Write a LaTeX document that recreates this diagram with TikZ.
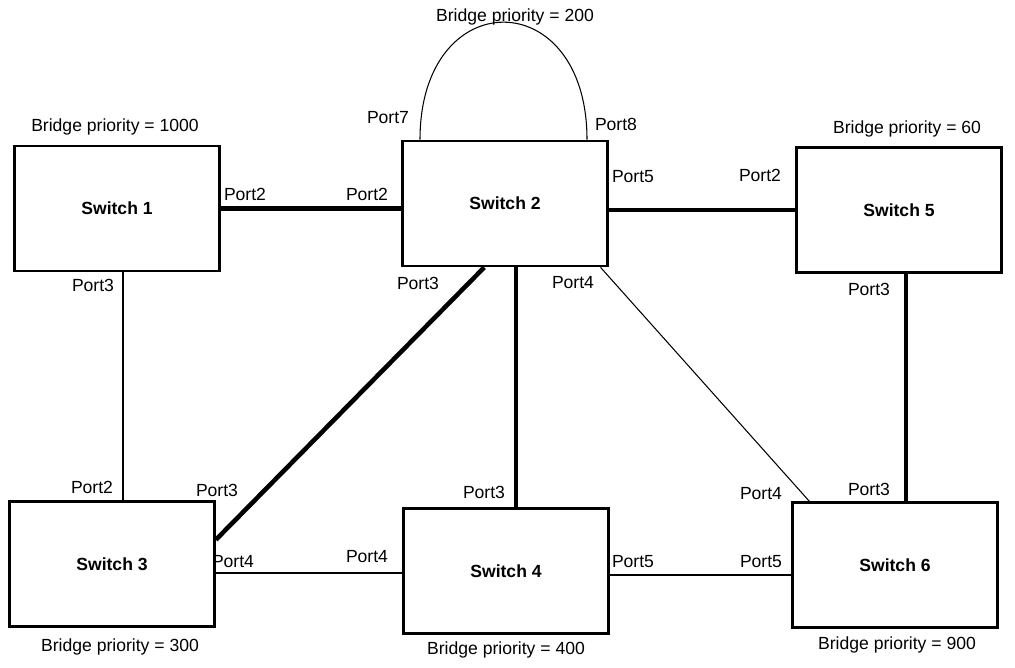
\documentclass[tikz,border=0pt]{standalone}
\usepackage{fontspec}
\setmainfont{Liberation Sans}
\usetikzlibrary{calc}
\begin{document}
\begin{tikzpicture}[x=0.02cm,y=-0.02cm,
  switch/.style={draw,line width=1.6pt,minimum width=4.1cm,minimum height=2.5cm,inner sep=0pt,font=\fontsize{10}{12}\selectfont\bfseries},
  lbl/.style={font=\fontsize{10}{12}\selectfont,inner sep=0pt},
  trunk/.style={line width=2.6pt},
  link/.style={line width=0.6pt}]
\useasboundingbox (0,0) rectangle (1015,667);
% switches
\node[switch] (s1) at (117,208.5) {Switch 1};
\node[switch] (s2) at (505,203.5) {Switch 2};
\node[switch] (s5) at (899,210) {Switch 5};
\node[switch] (s3) at (112,564) {Switch 3};
\node[switch] (s4) at (506,571) {Switch 4};
\node[switch] (s6) at (895,565) {Switch 6};
% links
\draw[trunk] (s1.east) -- (s2.west |- s1.east);
\draw[trunk] (s2.east |- s5.west) -- (s5.west);
\draw[link] (s1.south -| 123,0) -- (s3.north -| 123,0);
\draw[trunk] ($(s2.south west)!0.4!(s2.south east)$) -- ($(s3.north east)!0.31!(s3.south east)$);
\draw[trunk] (s2.south -| 516,0) -- (s4.north -| 516,0);
\draw[link] ($(s2.south west)!0.96!(s2.south east)$) -- ($(s6.north west)!0.087!(s6.north east)$);
\draw[trunk] (s5.south -| 906,0) -- (s6.north -| 906,0);
\draw[link] (s3.east |- 0,573) -- (s4.west |- 0,573);
\draw[link] (s4.east |- 0,575) -- (s6.west |- 0,575);
\draw[link] (s2.north -| 420,0) .. controls (420,-17) and (587,-17) .. (s2.north -| 587,0);
% ports
\node[lbl] (p12) at (245,194) {Port2};
\node[lbl] (p22) at (367,194) {Port2};
\node[lbl] (p27) at (388,118) {Port7};
\node[lbl] (p28) at (616,124) {Port8};
\node[lbl] (p25) at (633,177) {Port5};
\node[lbl] (p52) at (760,175) {Port2};
\node[lbl] (p23) at (418,283) {Port3};
\node[lbl] (p24) at (573,283) {Port4};
\node[lbl] (p13) at (93,285) {Port3};
\node[lbl] (p53) at (869,289) {Port3};
\node[lbl] (p32) at (92,487) {Port2};
\node[lbl] (p33) at (217,490) {Port3};
\node[lbl] (p43) at (484,492) {Port3};
\node[lbl] (p64) at (761,494) {Port4};
\node[lbl] (p63) at (869,489) {Port3};
\node[lbl] (p34) at (233,562) {Port4};
\node[lbl] (p44) at (367,557) {Port4};
\node[lbl] (p45) at (633,562) {Port5};
\node[lbl] (p65) at (761,562) {Port5};
% priorities
\node[lbl] (b1) at (115,127) {Bridge priority = 1000};
\node[lbl] (b2) at (515,17) {Bridge priority = 200};
\node[lbl] (b5) at (907,129) {Bridge priority = 60};
\node[lbl] (b3) at (120,647) {Bridge priority = 300};
\node[lbl] (b4) at (506,650) {Bridge priority = 400};
\node[lbl] (b6) at (897,645) {Bridge priority = 900};
\end{tikzpicture}
\end{document}
